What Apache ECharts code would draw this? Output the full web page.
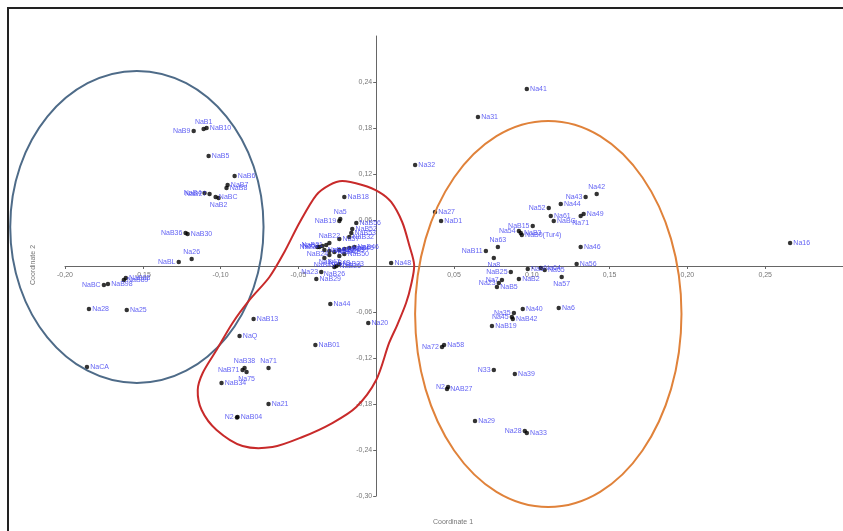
<!DOCTYPE html>
<html>
<head>
<meta charset="utf-8">
<script src="https://cdn.jsdelivr.net/npm/echarts@6/dist/echarts.min.js"></script>
<style>html,body{margin:0;padding:0;background:#fff}#c{width:843px;height:531px}</style>
</head>
<body>
<div id="c"></div>
<script>
// ---- Data (Coordinate 1, Coordinate 2) ----
const leftNames = ["NaB9","NaB1","NaB10","NaB5","NaB6","NaB7","NaB8","NaB4","NaB27","NaBC","NaB2","NaB36","NaB30","Na26","NaBL","NaB88","NaB89","NaB98","NaBC","Na28","Na25","NaCA"];
const leftC1 = [-0.1173,-0.1109,-0.1090,-0.1077,-0.0910,-0.0955,-0.0962,-0.1103,-0.1071,-0.1032,-0.1013,-0.1225,-0.1212,-0.1186,-0.1269,-0.1609,-0.1622,-0.1724,-0.1750,-0.1846,-0.1603,-0.1859];
const leftC2 = [0.1761,0.1787,0.1800,0.1435,0.1174,0.1056,0.1017,0.0952,0.0939,0.0900,0.0887,0.0430,0.0417,0.0091,0.0052,-0.0157,-0.0183,-0.0235,-0.0248,-0.0561,-0.0574,-0.1317];
const leftSide = ["left","top","right","right","right","right","right","left","left","right","bottom","left","right","top","left","right","right","right","left","right","right","right"];

const midNames = ["NaB18","Na5","NaB19","NaB56","NaB52","NaB53","NaB32","Na57","NaB22","NaB21","Na52","Na22","NaB24","NaB40","NaB41","NaB42","NaB43","NaB44","NaB45","NaB46","NaB47","NaB48","NaB49","NaB50","NaB23","NaB25","NaB26","Na48","Na23","NaB29","Na44","Na20","NaB13","NaQ","NaB01","NaB38","NaB71","Na75","Na71","NaB34","Na21","NaB04","N2"];
const midC1 = [-0.0205,-0.0231,-0.0237,-0.0128,-0.0154,-0.0160,-0.0173,-0.0237,-0.0301,-0.0321,-0.0346,-0.0365,-0.0378,-0.0333,-0.0301,-0.0269,-0.0237,-0.0205,-0.0173,-0.0141,-0.0301,-0.0237,-0.0333,-0.0205,-0.0237,-0.0256,-0.0269,0.0096,-0.0353,-0.0385,-0.0295,-0.0051,-0.0788,-0.0878,-0.0391,-0.0846,-0.0859,-0.0833,-0.0692,-0.0994,-0.0692,-0.0891,-0.0895];
const midC2 = [0.0900,0.0613,0.0587,0.0561,0.0483,0.0430,0.0378,0.0352,0.0300,0.0274,0.0261,0.0248,0.0248,0.0209,0.0196,0.0183,0.0209,0.0222,0.0235,0.0248,0.0143,0.0130,0.0104,0.0157,0.0026,0.0000,-0.0013,0.0039,-0.0078,-0.0170,-0.0496,-0.0743,-0.0691,-0.0913,-0.1030,-0.1330,-0.1357,-0.1383,-0.1330,-0.1526,-0.1800,-0.1969,-0.1975];
const midSide = ["right","top","left","right","right","right","right","right","top","left","left","left","bottom","right","right","right","right","right","right","right","bottom","bottom","bottom","right","right","right","bottom","right","left","right","right","right","right","right","right","top","left","bottom","top","right","right","right","left"];

const rightNames = ["Na41","Na31","Na32","Na27","NaD1","Na42","Na43","Na44","Na52","Na49","Na71","Na61","NaBG","NaB15","Na54","NaB3","NaB0(Tur4)","Na63","NaB11","Na46","Na56","Na8","NaB25","Na9","Na64","Na65","Na57","NaB2","Na7","Na23","NaB5","Na40","Na35","Na45","NaB42","Na6","NaB19","Na72","Na58","N33","Na39","N2","NAB27","Na29","Na28","Na33","Na16"];
const rightC1 = [0.0968,0.0654,0.0250,0.0378,0.0417,0.1417,0.1346,0.1186,0.1109,0.1333,0.1314,0.1122,0.1141,0.1006,0.0917,0.0929,0.0936,0.0782,0.0705,0.1314,0.1288,0.0756,0.0865,0.0974,0.1058,0.1083,0.1192,0.0917,0.0808,0.0788,0.0776,0.0942,0.0885,0.0872,0.0878,0.1173,0.0744,0.0423,0.0436,0.0756,0.0891,0.0462,0.0455,0.0635,0.0955,0.0968,0.2660];
const rightC2 = [0.2309,0.1943,0.1317,0.0704,0.0587,0.0939,0.0900,0.0809,0.0756,0.0678,0.0652,0.0652,0.0587,0.0522,0.0457,0.0430,0.0404,0.0248,0.0196,0.0248,0.0026,0.0104,-0.0078,-0.0039,-0.0026,-0.0052,-0.0143,-0.0170,-0.0183,-0.0222,-0.0274,-0.0561,-0.0613,-0.0665,-0.0691,-0.0548,-0.0783,-0.1056,-0.1030,-0.1356,-0.1409,-0.1578,-0.1604,-0.2022,-0.2152,-0.2178,0.0300];
const rightSide = ["right","right","right","right","right","top","left","right","left","right","bottom","right","right","left","left","right","right","top","left","right","right","bottom","left","right","right","right","bottom","right","left","left","right","right","left","left","right","right","right","left","right","left","right","left","right","right","left","right","right"];

// Axis ticks
const xMin = -0.20, xMax = 0.30, xStep = 0.05;
const yMin = -0.30, yMax = 0.30, yStep = 0.06;

// Group outlines (data space)
const blueEllipse = {cx: -0.1538, cy: 0.0509, rx: 0.0814, ry: 0.2035};
const orangeEllipse = {cx: 0.1106, cy: -0.0626, rx: 0.0856, ry: 0.2517};
const redOutline = [[-0.0218,0.1109],[-0.0090,0.1056],[0.0019,0.0965],[0.0096,0.0835],[0.0167,0.0574],[0.0212,0.0274],[0.0244,0.0013],[0.0224,-0.0248],[0.0192,-0.0483],[0.0135,-0.0770],[0.0083,-0.1004],[0.0000,-0.1487],[-0.0128,-0.1839],[-0.0282,-0.2048],[-0.0474,-0.2230],[-0.0667,-0.2361],[-0.0859,-0.2348],[-0.1026,-0.2139],[-0.1122,-0.1878],[-0.1147,-0.1617],[-0.1115,-0.1396],[-0.1026,-0.1096],[-0.0923,-0.0743],[-0.0814,-0.0443],[-0.0686,-0.0143],[-0.0590,0.0183],[-0.0494,0.0561],[-0.0385,0.0926],[-0.0301,0.1056]];

function build(names, c1, c2, side) {
  return names.map((n, i) => ({
    name: n,
    value: [c1[i], c2[i]],
    label: {position: side[i]}
  }));
}
const allData = [].concat(
  build(leftNames, leftC1, leftC2, leftSide),
  build(midNames, midC1, midC2, midSide),
  build(rightNames, rightC1, rightC2, rightSide)
);

function fmt(v) {
  if (Math.abs(v) < 1e-9) return '';
  return v.toFixed(2).replace('.', ',');
}

const GRID = {left: 65, right: -2, top: 36, bottom: 35};
const W = 843, H = 531;

const chart = echarts.init(document.getElementById('c'), null, {renderer: 'canvas'});
chart.setOption({
  animation: false,
  backgroundColor: '#fff',
  grid: Object.assign({containLabel: false}, GRID),
  xAxis: {
    type: 'value', min: xMin, max: xMax, interval: xStep, position: 'bottom',
    axisLine: {onZero: false, lineStyle: {color: '#666', width: 1}},
    axisTick: {show: true, length: 3, lineStyle: {color: '#666'}},
    axisLabel: {formatter: fmt, fontSize: 7, color: '#777', margin: 6, showMaxLabel: false, fontFamily: 'Liberation Sans'},
    splitLine: {show: false}
  },
  yAxis: {
    type: 'value', min: yMin, max: yMax, interval: yStep, position: 'left',
    axisLine: {onZero: false, lineStyle: {color: '#666', width: 1}},
    axisTick: {show: true, length: 3, lineStyle: {color: '#666'}},
    axisLabel: {formatter: fmt, fontSize: 7, color: '#777', margin: 4, showMaxLabel: false, fontFamily: 'Liberation Sans'},
    splitLine: {show: false}
  },
  series: [{
    type: 'scatter',
    symbol: 'circle',
    symbolSize: 4.5,
    itemStyle: {color: '#000'},
    label: {
      show: true, formatter: '{b}', fontSize: 7, color: '#3a3af0',
      distance: 1, fontFamily: 'Liberation Sans'
    },
    labelLayout: {hideOverlap: false},
    data: allData,
    z: 3
  }]
});

function px(p) { return chart.convertToPixel({xAxisIndex: 0, yAxisIndex: 0}, p); }
// move both axes so they cross at the origin
const origin = px([0, 0]);
chart.setOption({
  xAxis: {offset: -((H - GRID.bottom) - origin[1])},
  yAxis: {offset: -(origin[0] - GRID.left)}
});

function ell(e, color) {
  const c = px([e.cx, e.cy]);
  const rx = px([e.cx + e.rx, e.cy])[0] - c[0];
  const ry = c[1] - px([e.cx, e.cy + e.ry])[1];
  return {type: 'ellipse', shape: {cx: c[0], cy: c[1], rx: rx, ry: ry},
    style: {fill: null, stroke: color, lineWidth: 2}, z: 10, silent: true};
}
chart.setOption({
  graphic: [
    {type: 'rect', shape: {x: 8, y: 8, width: 850, height: 540},
      style: {fill: null, stroke: '#222', lineWidth: 2}, z: 20, silent: true},
    ell(blueEllipse, '#4e6b88'),
    ell(orangeEllipse, '#e0823a'),
    {type: 'polygon', shape: {points: redOutline.map(px), smooth: 0.3},
      style: {fill: null, stroke: '#c82a2a', lineWidth: 2}, z: 10, silent: true},
    {type: 'text', x: 453, y: 522, style: {text: 'Coordinate 1', fontSize: 7, fill: '#777',
      textAlign: 'center', textVerticalAlign: 'middle', fontFamily: 'Liberation Sans'}, z: 20},
    {type: 'text', x: 33, y: 265, rotation: Math.PI / 2, style: {text: 'Coordinate 2', fontSize: 7, fill: '#777',
      textAlign: 'center', textVerticalAlign: 'middle', fontFamily: 'Liberation Sans'}, z: 20}
  ]
});
</script>
</body>
</html>
